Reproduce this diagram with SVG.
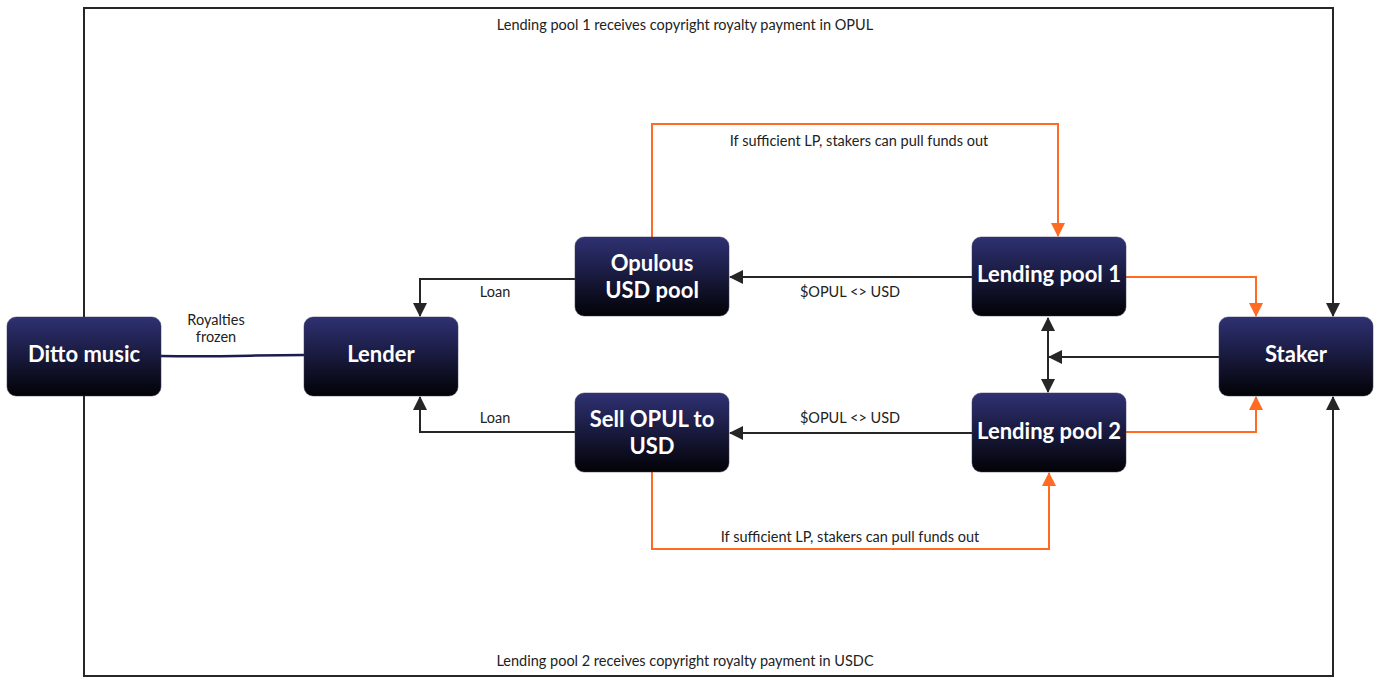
<svg xmlns="http://www.w3.org/2000/svg" width="1378" height="677" viewBox="0 0 1378 677">
<style>
.node rect{fill:url(#g);stroke:#3a3a5a;stroke-width:0.5}
.node text{font-family:Lato,"Noto Sans",sans-serif;font-weight:bold;font-size:22px;fill:#fff;text-anchor:middle}
.lbl{font-family:Lato,"Noto Sans",sans-serif;font-size:14.5px;fill:#222;text-anchor:middle}
.k{fill:none;stroke:#262626;stroke-width:2}
.o{fill:none;stroke:#ff6b22;stroke-width:2}
</style>
<defs>
<linearGradient id="g" x1="0" y1="0" x2="0" y2="1">
<stop offset="0" stop-color="#2f3173"/>
<stop offset="1" stop-color="#020206"/>
</linearGradient>
<marker id="ak" viewBox="0 0 14 14" refX="13" refY="7" markerWidth="14" markerHeight="14" markerUnits="userSpaceOnUse" orient="auto-start-reverse">
<path d="M0,0 L14,7 L0,14 Z" fill="#262626"/>
</marker>
<marker id="ao" viewBox="0 0 14 14" refX="13" refY="7" markerWidth="14" markerHeight="14" markerUnits="userSpaceOnUse" orient="auto">
<path d="M0,0 L14,7 L0,14 Z" fill="#ff6b22"/>
</marker>
</defs>
<rect width="1378" height="677" fill="#fff"/>
<g id="connectors">
<path class="k" d="M84,317 V8 H1333 V316" marker-end="url(#ak)"/>
<path class="k" d="M84,396 V676 H1333 V397" marker-end="url(#ak)"/>
<path d="M161,356 C230,357 250,355 304,355" fill="none" stroke="#1c1c4e" stroke-width="2.5"/>
<path class="k" d="M575,279 H420 V316" marker-end="url(#ak)"/>
<path class="k" d="M972,277 H730" marker-end="url(#ak)"/>
<path class="k" d="M575,432 H420 V397" marker-end="url(#ak)"/>
<path class="k" d="M972,433 H730" marker-end="url(#ak)"/>
<path class="k" d="M1048,318 V392" marker-start="url(#ak)" marker-end="url(#ak)"/>
<path class="k" d="M1219,357 H1049" marker-end="url(#ak)"/>
<path class="o" d="M652,237 V124 H1058 V236" marker-end="url(#ao)"/>
<path class="o" d="M652,472 V549 H1049 V473" marker-end="url(#ao)"/>
<path class="o" d="M1126,277 H1256 V316" marker-end="url(#ao)"/>
<path class="o" d="M1126,432 H1256 V397" marker-end="url(#ao)"/>
<text class="lbl" x="685" y="30">Lending pool 1 receives copyright royalty payment in OPUL</text>
<text class="lbl" x="685" y="666">Lending pool 2 receives copyright royalty payment in USDC</text>
<text class="lbl" x="216" y="325">Royalties</text>
<text class="lbl" x="216" y="342">frozen</text>
<text class="lbl" x="495" y="297">Loan</text>
<text class="lbl" x="495" y="423">Loan</text>
<text class="lbl" x="850" y="297">$OPUL &lt;&gt; USD</text>
<text class="lbl" x="850" y="423">$OPUL &lt;&gt; USD</text>
<text class="lbl" x="859" y="146">If sufficient LP, stakers can pull funds out</text>
<text class="lbl" x="850" y="542">If sufficient LP, stakers can pull funds out</text>
</g>
<g id="ditto" class="node"><rect x="7" y="317" width="154" height="79" rx="9"/><text x="84" y="362">Ditto music</text></g>
<g id="lender" class="node"><rect x="304" y="317" width="154" height="79" rx="9"/><text x="381" y="362">Lender</text></g>
<g id="opulous" class="node"><rect x="575" y="237" width="154" height="79" rx="9"/><text x="652" y="271">Opulous</text><text x="652" y="298">USD pool</text></g>
<g id="sell" class="node"><rect x="575" y="393" width="154" height="79" rx="9"/><text x="652" y="427">Sell OPUL to</text><text x="652" y="454">USD</text></g>
<g id="lp1" class="node"><rect x="972" y="237" width="154" height="79" rx="9"/><text x="1049" y="282">Lending pool 1</text></g>
<g id="lp2" class="node"><rect x="972" y="393" width="154" height="79" rx="9"/><text x="1049" y="439">Lending pool 2</text></g>
<g id="staker" class="node"><rect x="1219" y="317" width="154" height="79" rx="9"/><text x="1296" y="362">Staker</text></g>
</svg>
